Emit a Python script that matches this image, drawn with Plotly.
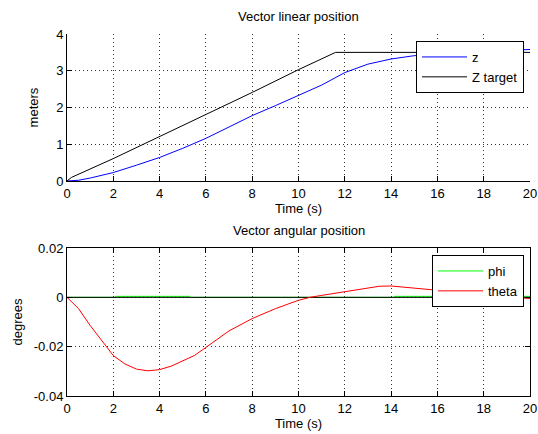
import plotly.graph_objects as go

# ---- data ----
z_t = [0, 0.5, 1, 1.5, 2, 3, 4, 5, 6, 7, 8, 9, 10, 11, 12, 13, 14, 15, 16, 17, 18, 19, 20]
z_v = [0, 0.02, 0.08, 0.15, 0.23, 0.43, 0.64, 0.89, 1.16, 1.47, 1.78, 2.05, 2.32, 2.61, 2.95, 3.18, 3.32, 3.41, 3.45, 3.48, 3.51, 3.54, 3.58]

target_t = [0, 0.2, 2, 4, 6, 8, 10, 11.6, 20]
target_v = [0, 0.1, 0.61, 1.2, 1.81, 2.41, 3.03, 3.5, 3.5]

theta_t = [0, 0.5, 1, 1.5, 2, 2.5, 3, 3.5, 4, 4.5, 5, 5.5, 6, 6.5, 7, 8, 9, 10, 10.5, 11, 12, 13, 13.5, 14, 14.5, 15, 15.5, 16, 17, 18, 19, 19.5, 20]
theta_v = [0, -0.0046, -0.0114, -0.0175, -0.0236, -0.027, -0.0291, -0.0298, -0.0293, -0.0279, -0.0259, -0.0236, -0.0203, -0.0169, -0.0136, -0.0086, -0.0046, -0.0012, 0, 0.0008, 0.0024, 0.0038, 0.0045, 0.0046, 0.0042, 0.0038, 0.0034, 0.003, 0.002, 0.001, 0.0003, 0, -0.0005]

phi_t = [0, 2.05, 2.1, 5.3, 5.35, 14.1, 14.15, 20]
phi_v = [0, 0, 0.0004, 0.0004, 0, 0, 0.0004, 0.0004]

psi_t = [0, 20]
psi_v = [0, 0]

x_ticks = [0, 2, 4, 6, 8, 10, 12, 14, 16, 18, 20]
y1_ticks = [0, 1, 2, 3, 4]
y2_ticks = [-0.04, -0.02, 0, 0.02]
y2_labels = ["-0.04", "-0.02", "0", "0.02"]

FONT = "Liberation Sans, Arial, sans-serif"

fig = go.Figure()
fig.add_trace(go.Scatter(x=z_t, y=z_v, mode="lines", name="z",
                         line=dict(color="#0000ff", width=1), xaxis="x", yaxis="y", legend="legend"))
fig.add_trace(go.Scatter(x=target_t, y=target_v, mode="lines", name="Z target",
                         line=dict(color="#000000", width=1), xaxis="x", yaxis="y", legend="legend"))
fig.add_trace(go.Scatter(x=phi_t, y=phi_v, mode="lines", name="phi",
                         line=dict(color="#00ff00", width=1), xaxis="x2", yaxis="y2", legend="legend2"))
fig.add_trace(go.Scatter(x=psi_t, y=psi_v, mode="lines", name="psi", showlegend=False,
                         line=dict(color="#000000", width=1), xaxis="x2", yaxis="y2"))
fig.add_trace(go.Scatter(x=theta_t, y=theta_v, mode="lines", name="theta",
                         line=dict(color="#ff0000", width=1), xaxis="x2", yaxis="y2", legend="legend2"))

grid = dict(showgrid=True, gridcolor="#333333", gridwidth=1, griddash="1px,3px",
            zeroline=False, ticks="inside", ticklen=5, tickcolor="#000", tickwidth=1,
            showline=True, linecolor="#000", linewidth=1, automargin=False,
            ticklabeloverflow="allow",
            tickfont=dict(family=FONT, size=13, color="#000"))

W, H = 538, 434
L, R, T, B = 67, 8, 34, 38
PH = H - T - B  # 362
top_dom = [(396 - 181) / PH, 1.0]
bot_dom = [0.0, (396 - 248) / PH]
PW = W - L - R

fig.update_layout(
    width=W, height=H,
    margin=dict(l=L, r=R, t=T, b=B, autoexpand=False),
    paper_bgcolor="white", plot_bgcolor="white",
    font=dict(family=FONT, size=13, color="#000"),
    showlegend=True,
    xaxis=dict(**grid, domain=[0, 1], anchor="y", range=[0, 20], tickvals=x_ticks,
               mirror=False, title=dict(text="Time (s)", standoff=2, font=dict(size=13))),
    yaxis=dict(**grid, domain=top_dom, anchor="x", range=[0, 4], tickvals=y1_ticks,
               mirror=False, title=dict(text="meters", standoff=14, font=dict(size=13))),
    xaxis2=dict(**grid, domain=[0, 1], anchor="y2", range=[0, 20], tickvals=x_ticks,
                mirror="ticks", title=dict(text="Time (s)", standoff=2, font=dict(size=13))),
    yaxis2=dict(**grid, domain=bot_dom, anchor="x2", range=[-0.04, 0.02], tickvals=y2_ticks,
                ticktext=y2_labels, mirror="ticks",
                title=dict(text="degrees", standoff=8, font=dict(size=13))),
    legend=dict(x=(524 - L) / PW, y=(396 - 41) / PH, xanchor="right", yanchor="top",
                bgcolor="white", bordercolor="#000", borderwidth=1, itemwidth=45,
                font=dict(family=FONT, size=13, color="#000")),
    legend2=dict(x=(524 - L) / PW, y=(396 - 255) / PH, xanchor="right", yanchor="top",
                 bgcolor="white", bordercolor="#000", borderwidth=1, itemwidth=45,
                 font=dict(family=FONT, size=13, color="#000")),
    annotations=[
        dict(text="Vector linear position", x=0.5, y=top_dom[1], xref="paper", yref="paper",
             xanchor="center", yanchor="bottom", yshift=8, showarrow=False,
             font=dict(family=FONT, size=13, color="#000")),
        dict(text="Vector angular position", x=0.5, y=bot_dom[1], xref="paper", yref="paper",
             xanchor="center", yanchor="bottom", yshift=8, showarrow=False,
             font=dict(family=FONT, size=13, color="#000")),
    ],
)

fig.write_html("out.html", config={"displayModeBar": False},
               post_script="document.body.style.margin='0';document.body.style.overflow='hidden';")
